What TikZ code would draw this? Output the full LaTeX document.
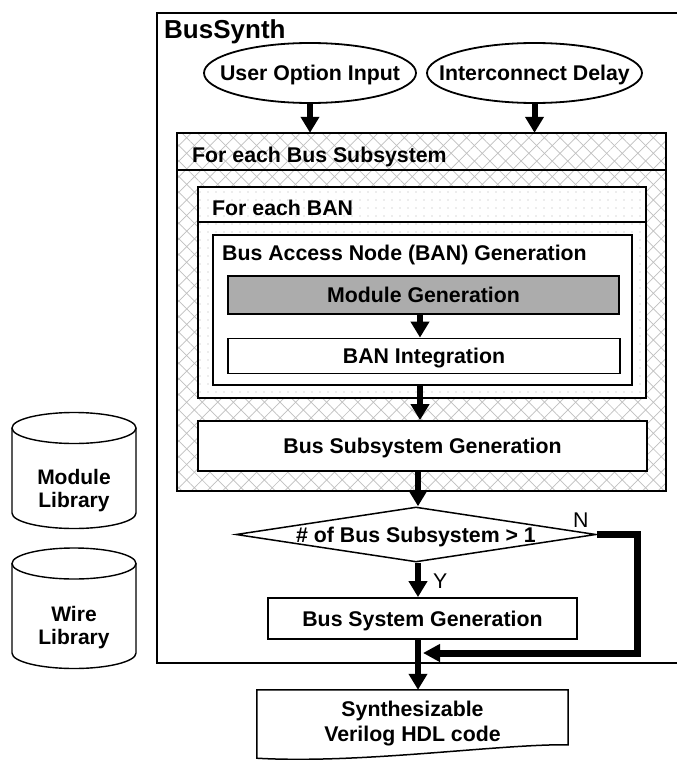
\documentclass[tikz,border=0pt]{standalone}
\usepackage{fontspec}
\setmainfont{Liberation Sans}
\usetikzlibrary{shapes.geometric,arrows.meta,patterns.meta}
\begin{document}
\begin{tikzpicture}[x=1pt,y=-1pt,
  lbl/.style={font=\fontsize{21.3}{25}\selectfont\bfseries, text height=15.2pt, text depth=0pt, inner sep=0pt},
  bxs/.style={draw, line width=1.8pt, fill=white, inner sep=0pt, lbl},
  frm/.style={draw, line width=1.8pt, inner sep=0pt},
  ttl/.style={font=\fontsize{21.3}{25}\selectfont\bfseries, anchor=base west, inner sep=0pt},
  plainlbl/.style={font=\fontsize{21.3}{25}\selectfont, anchor=base west, inner sep=0pt},
  twol/.style={font=\fontsize{21}{23}\selectfont\bfseries, align=center, inner sep=0pt},
  arr/.style={line width=6pt, -{Triangle[length=16pt,width=18pt]}},
  cyl/.style={line width=1.4pt},
  hatchA/.style={pattern={Lines[angle=45,distance=11pt,line width=0.7pt]}, pattern color=gray!50},
  hatchB/.style={pattern={Lines[angle=-45,distance=11pt,line width=0.7pt]}, pattern color=gray!50},
  dotsp/.style={pattern={Dots[distance=8pt,radius=0.65pt]}, pattern color=gray!60},
]
\useasboundingbox (0,0) rectangle (677,760);

% outer BusSynth frame (right side off the picture)
\draw[line width=1.3pt] (677,13) -- (157,13) -- (157,663) -- (677,663);
\node[ttl, font=\fontsize{26}{30}\selectfont\bfseries] (bus) at (164,39) {BusSynth};

% inputs
\node[ellipse, draw, line width=1.8pt, minimum width=212pt, minimum height=60pt, inner sep=0pt,
      label={[lbl]center:User Option Input}] (e1) at (310,73) {};
\node[ellipse, draw, line width=1.8pt, minimum width=215pt, minimum height=60pt, inner sep=0pt,
      label={[lbl]center:Interconnect Delay}] (e2) at (534.5,73) {};

% For each Bus Subsystem (hatched)
\node[minimum width=489pt, minimum height=358pt, inner sep=0pt] (hb) at (421.5,312) {};
\fill[white] (hb.north west) rectangle (hb.south east);
\fill[hatchA] (hb.north west) rectangle (hb.south east);
\fill[hatchB] (hb.north west) rectangle (hb.south east);
\draw[line width=1.8pt] (hb.north west) rectangle (hb.south east);
\coordinate (h1) at (0,170);
\draw[line width=1.8pt] (hb.west |- h1) -- (hb.east |- h1);
\node[ttl] (t1) at (192,162) {For each Bus Subsystem};

% For each BAN (dotted)
\node[minimum width=448pt, minimum height=211pt, inner sep=0pt] (db) at (422,292.5) {};
\fill[white] (db.north west) rectangle (db.south east);
\fill[dotsp] (db.north west) rectangle (db.south east);
\draw[line width=1.8pt] (db.north west) rectangle (db.south east);
\coordinate (h2) at (0,222);
\draw[line width=1.5pt] (db.west |- h2) -- (db.east |- h2);
\node[ttl] (t2) at (212,215) {For each BAN};

% BAN generation
\node[frm, fill=white, minimum width=419pt, minimum height=150pt] (bg) at (422.5,310) {};
\node[ttl] (t3) at (222,260) {Bus Access Node (BAN) Generation};
\node[bxs, fill=gray!65, minimum width=391pt, minimum height=38pt] (mg) at (423.5,295) {Module Generation};
\node[bxs, minimum width=392pt, minimum height=35pt] (bi) at (424,356) {BAN Integration};

% Bus subsystem generation
\node[bxs, minimum width=449pt, minimum height=50pt] (bsg) at (422.5,446) {Bus Subsystem Generation};

% decision
\node[diamond, draw, line width=1.5pt, aspect=6.5, minimum width=360pt, minimum height=55pt, inner sep=0pt,
      label={[lbl]center:\# of Bus Subsystem > 1}] (dia) at (416,534.5) {};
\node[plainlbl] (nl) at (573,527) {N};
\node[plainlbl] (yl) at (433,588) {Y};

% bus system generation
\node[bxs, minimum width=309pt, minimum height=41pt] (bs) at (422.5,618.5) {Bus System Generation};

% output document
\node[twol, font=\fontsize{21.3}{25}\selectfont\bfseries, minimum width=311pt, minimum height=68pt] (doc) at (412.5,724) {Synthesizable\\Verilog HDL code};
\draw[line width=1.5pt] (doc.south west) -- (doc.north west) -- (doc.north east) -- ++(0,55)
   .. controls +(-68,-1) and +(103,6) .. (doc.south west) -- cycle;

% libraries
\draw[cyl, fill=white] (12,428) -- (12,513) arc[start angle=180, end angle=0, x radius=62, y radius=15.5] -- (136,428);
\draw[cyl] (74,428) ellipse [x radius=62, y radius=15.5];
\node[twol] (ml) at (74,491) {Module\\Library};
\draw[cyl, fill=white] (12,563.5) -- (12,653) arc[start angle=180, end angle=0, x radius=62, y radius=15.5] -- (136,563.5);
\draw[cyl] (74,563.5) ellipse [x radius=62, y radius=15.5];
\node[twol] (wl) at (74,627.5) {Wire\\Library};

% connectors
\coordinate (ax) at (420,0);
\coordinate (bx) at (418,0);
\coordinate (nj) at (423,653);
\draw[arr] (e1.south) -- (e1.south |- hb.north);
\draw[arr] (e2.south) -- (e2.south |- hb.north);
\draw[arr] (mg.south -| ax) -- (bi.north -| ax);
\draw[arr] (bg.south -| ax) -- (bsg.north -| ax);
\draw[arr] (bsg.south -| bx) -- (dia.north -| bx);
\draw[arr] (dia.south -| bx) -- (bs.north -| bx);
\draw[arr] (bs.south -| bx) -- (doc.north -| bx);
\draw[line width=7pt, line join=miter, -{Triangle[length=17pt,width=17pt]}]
   (dia.east) -- ++(41,0) |- (nj);
\end{tikzpicture}
\end{document}
